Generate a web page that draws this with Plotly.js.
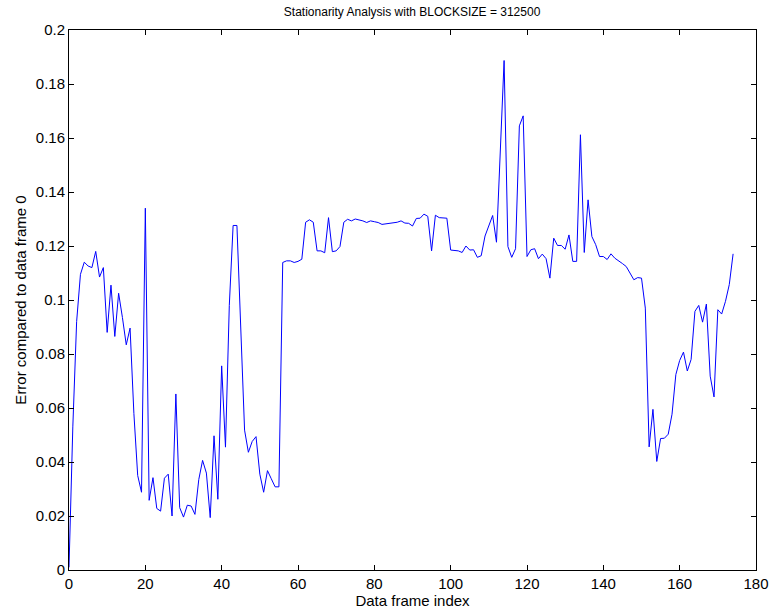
<!DOCTYPE html>
<html>
<head>
<meta charset="utf-8">
<script src="https://cdn.plot.ly/plotly-3.0.1.min.js"></script>
<style>
  html, body { margin: 0; padding: 0; background: #fff; }
  #chart { width: 772px; height: 610px; }
</style>
</head>
<body>
<div id="chart"></div>
<script>
// error vs data frame 0, one value per frame index (0..174)
var errorValues = [
  0.001, 0.053, 0.092, 0.1095, 0.114, 0.1126, 0.112, 0.118, 0.1085, 0.112,
  0.088, 0.1055, 0.0865, 0.1025, 0.0935, 0.0834, 0.0896, 0.058, 0.035, 0.0288,
  0.134, 0.0258, 0.0342, 0.0228, 0.0218, 0.034, 0.0355, 0.0200, 0.0652, 0.0231,
  0.0196, 0.0240, 0.0237, 0.0206, 0.0335, 0.0406, 0.0359, 0.0194, 0.0497, 0.0262,
  0.0756, 0.0455, 0.098, 0.1276, 0.1276, 0.090, 0.0518, 0.0436, 0.0476, 0.0494,
  0.0355, 0.0288, 0.0368, 0.0338, 0.0308, 0.0308, 0.1139, 0.1145, 0.1145, 0.1139,
  0.1143, 0.1151, 0.1288, 0.1297, 0.1288, 0.1182, 0.1182, 0.1175, 0.1305, 0.1179,
  0.1182, 0.1198, 0.1288, 0.1299, 0.1293, 0.1300, 0.1297, 0.1293, 0.1287, 0.1293,
  0.1290, 0.1287, 0.1280, 0.1282, 0.1284, 0.1288, 0.1288, 0.1293, 0.1285, 0.1284,
  0.1274, 0.1302, 0.1303, 0.1318, 0.1310, 0.1182, 0.1314, 0.1305, 0.1303, 0.1303,
  0.1185, 0.1183, 0.1182, 0.1176, 0.1200, 0.1185, 0.1186, 0.1158, 0.1164, 0.1237,
  0.1278, 0.1313, 0.1214, 0.155, 0.1887, 0.1198, 0.1158, 0.1190, 0.1645, 0.1682,
  0.1161, 0.1186, 0.1190, 0.1153, 0.1170, 0.1153, 0.1081, 0.1229, 0.1202, 0.1202,
  0.1188, 0.1241, 0.1143, 0.1143, 0.1612, 0.1176, 0.1371, 0.1235, 0.1205, 0.1161,
  0.1161, 0.1150, 0.1171, 0.1155, 0.1146, 0.1135, 0.1124, 0.1101, 0.1075, 0.1083,
  0.1081, 0.097, 0.0456, 0.0595, 0.0402, 0.0487, 0.0488, 0.0503, 0.0577, 0.0724,
  0.0776, 0.0807, 0.0737, 0.0780, 0.0958, 0.0980, 0.0918, 0.0985, 0.0718, 0.0641,
  0.0964, 0.0948, 0.0995, 0.1057, 0.1171
];
var frameIndex = errorValues.map(function (v, i) { return i; });

var blockSize = 312500;

var trace = {
  x: frameIndex,
  y: errorValues,
  type: 'scatter',
  mode: 'lines',
  line: { color: '#0000ff', width: 1 },
  hoverinfo: 'x+y'
};

var axisStyle = {
  showgrid: false,
  zeroline: false,
  showline: true,
  linecolor: '#000',
  linewidth: 1,
  mirror: 'allticks',
  ticks: 'inside',
  ticklen: 5,
  tickcolor: '#000',
  tickfont: { size: 15, color: '#000' }
};

var layout = {
  width: 772,
  height: 610,
  margin: { l: 69, r: 16, t: 30, b: 40 },
  paper_bgcolor: '#fff',
  plot_bgcolor: '#fff',
  font: { family: 'Liberation Sans, Arial, sans-serif', color: '#000' },
  showlegend: false,
  title: {
    text: 'Stationarity Analysis with BLOCKSIZE = ' + blockSize,
    font: { size: 12, color: '#000' },
    x: 0.5338, xanchor: 'center',
    yref: 'container', y: 0.981, yanchor: 'middle'
  },
  xaxis: Object.assign({}, axisStyle, {
    range: [0, 180],
    dtick: 20,
    tick0: 0,
    title: { text: 'Data frame index', font: { size: 15 }, standoff: 3 }
  }),
  yaxis: Object.assign({}, axisStyle, {
    range: [0, 0.2],
    dtick: 0.02,
    tick0: 0,
    tickformat: '~g',
    title: { text: 'Error compared to data frame 0', font: { size: 15 }, standoff: 5 }
  })
};

Plotly.newPlot('chart', [trace], layout, { displaylogo: false, displayModeBar: false, staticPlot: true });
</script>
</body>
</html>
